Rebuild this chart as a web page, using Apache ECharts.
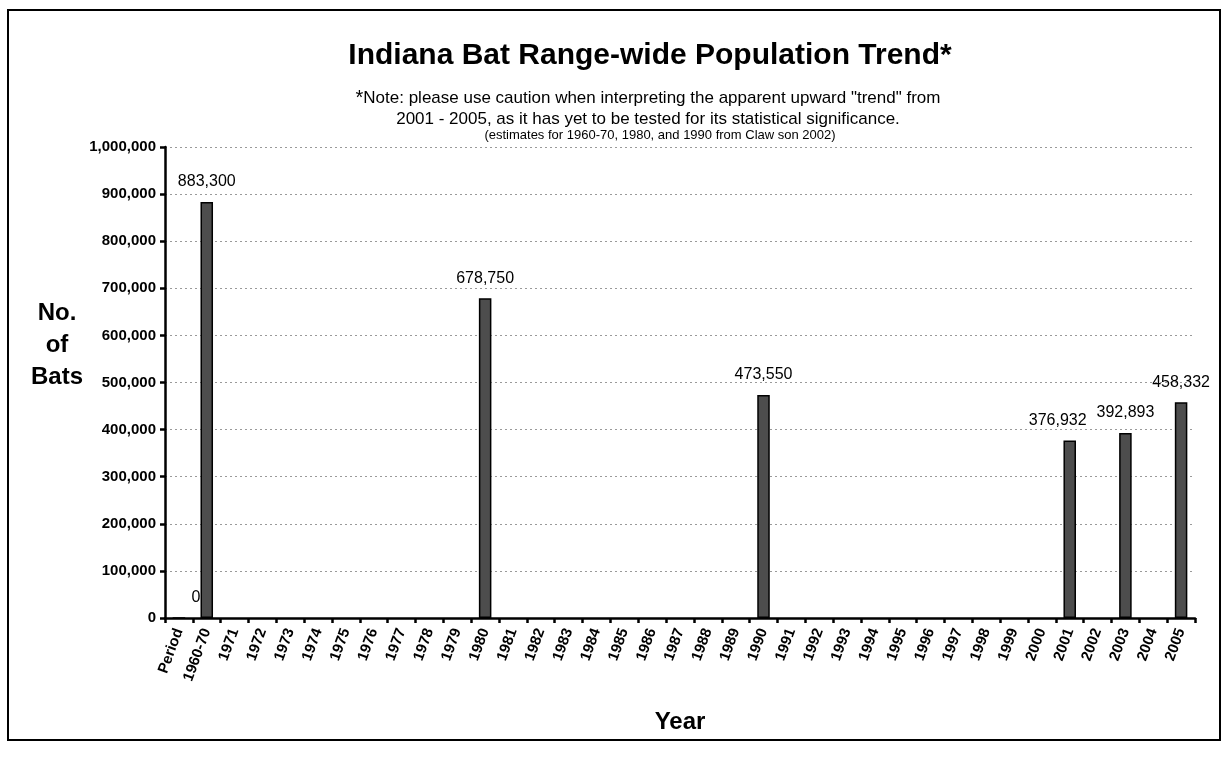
<!DOCTYPE html>
<html>
<head>
<meta charset="utf-8">
<script src="https://cdn.jsdelivr.net/npm/echarts@6/dist/echarts.min.js"></script>
<style>
  html, body { margin: 0; padding: 0; background: #fff; }
  #chart { width: 1232px; height: 757px; }
</style>
</head>
<body>
<div id="chart"></div>
<script>
const years = [
  "Period", "1960-70",
  "1971", "1972", "1973", "1974", "1975", "1976", "1977", "1978", "1979", "1980",
  "1981", "1982", "1983", "1984", "1985", "1986", "1987", "1988", "1989", "1990",
  "1991", "1992", "1993", "1994", "1995", "1996", "1997", "1998", "1999", "2000",
  "2001", "2002", "2003", "2004", "2005"
];

// population estimates per category (null = no survey)
const bats = [
  0, 883300,
  null, null, null, null, null, null, null, null, null, 678750,
  null, null, null, null, null, null, null, null, null, 473550,
  null, null, null, null, null, null, null, null, null, null,
  376932, null, 392893, null, 458332
];

const yTicks = { min: 0, max: 1000000, step: 100000 };

const titleText = "Indiana Bat Range-wide Population Trend*";
const noteLines = [
  "{sup|*}Note: please use caution when interpreting the apparent upward \"trend\" from",
  "2001 - 2005, as it has yet to be tested for its statistical significance."
];
const sourceNote = "(estimates for 1960-70, 1980, and 1990 from Claw son 2002)";

const fmt = (v) => Number(v).toLocaleString("en-US");
const font = "Arial, 'Liberation Sans', sans-serif";

// a few labels were nudged sideways in the original to avoid crowding
const labelNudge = { "Period": [17, 0], "2001": [-12, 0] };

const chart = echarts.init(document.getElementById("chart"), null, { renderer: "canvas" });

const barData = bats.map((v, i) =>
  labelNudge[years[i]] ? { value: v, label: { offset: labelNudge[years[i]] } } : v
);

const option = {
  backgroundColor: "#fff",
  animation: false,
  title: [
    {
      text: titleText,
      left: 645, top: 36, textAlign: "center",
      textStyle: { fontFamily: font, fontSize: 30, fontWeight: "bold", color: "#000" }
    },
    {
      text: noteLines.join("\n"),
      left: 643, top: 83, textAlign: "center",
      textStyle: {
        fontFamily: font, fontSize: 17, fontWeight: "normal", color: "#000", lineHeight: 21,
        rich: { sup: { fontSize: 20, verticalAlign: "top", fontFamily: font } }
      }
    },
    {
      text: sourceNote,
      left: 655, top: 124, textAlign: "center",
      textStyle: { fontFamily: font, fontSize: 13, fontWeight: "normal", color: "#000" }
    },
    {
      text: "No.\nof\nBats",
      left: 52, top: 292, textAlign: "center",
      textStyle: { fontFamily: font, fontSize: 24, fontWeight: "bold", color: "#000", lineHeight: 32 }
    }
  ],
  graphic: [
    {
      type: "rect",
      shape: { x: 8, y: 10, width: 1212, height: 730 },
      style: { fill: "none", stroke: "#000", lineWidth: 2 },
      silent: true
    }
  ],
  grid: { left: 165, top: 147, width: 1030, height: 471, containLabel: false },
  xAxis: {
    type: "category",
    data: years,
    name: "Year",
    nameLocation: "middle",
    nameGap: 92,
    nameTextStyle: { fontFamily: font, fontSize: 24, fontWeight: "bold", color: "#000" },
    axisLine: { lineStyle: { color: "#000", width: 2.5 } },
    axisTick: { show: true, length: 5, lineStyle: { color: "#000", width: 2.5 } },
    axisLabel: {
      interval: 0, rotate: 70, margin: 11,
      fontFamily: font, fontSize: 15, fontWeight: "bold", color: "#000"
    }
  },
  yAxis: {
    type: "value",
    min: yTicks.min, max: yTicks.max, interval: yTicks.step,
    axisLine: { show: true, lineStyle: { color: "#000", width: 2.5 } },
    axisTick: { show: true, length: 5, lineStyle: { color: "#000", width: 2.5 } },
    axisLabel: {
      formatter: (v) => fmt(v), margin: 9,
      fontFamily: font, fontSize: 15, fontWeight: "bold", color: "#000"
    },
    splitLine: { show: true, lineStyle: { color: "#9a9a9a", width: 1, type: [2, 3] } }
  },
  series: [
    {
      type: "bar",
      data: barData,
      barWidth: "45%",
      itemStyle: { color: "#4d4d4d", borderColor: "#000", borderWidth: 1.5 },
      label: {
        show: true, position: "top", distance: 12,
        formatter: (p) => fmt(p.value),
        fontFamily: font, fontSize: 16, color: "#000"
      }
    }
  ]
};

chart.setOption(option);
window.addEventListener("resize", chart.resize);
</script>
</body>
</html>
